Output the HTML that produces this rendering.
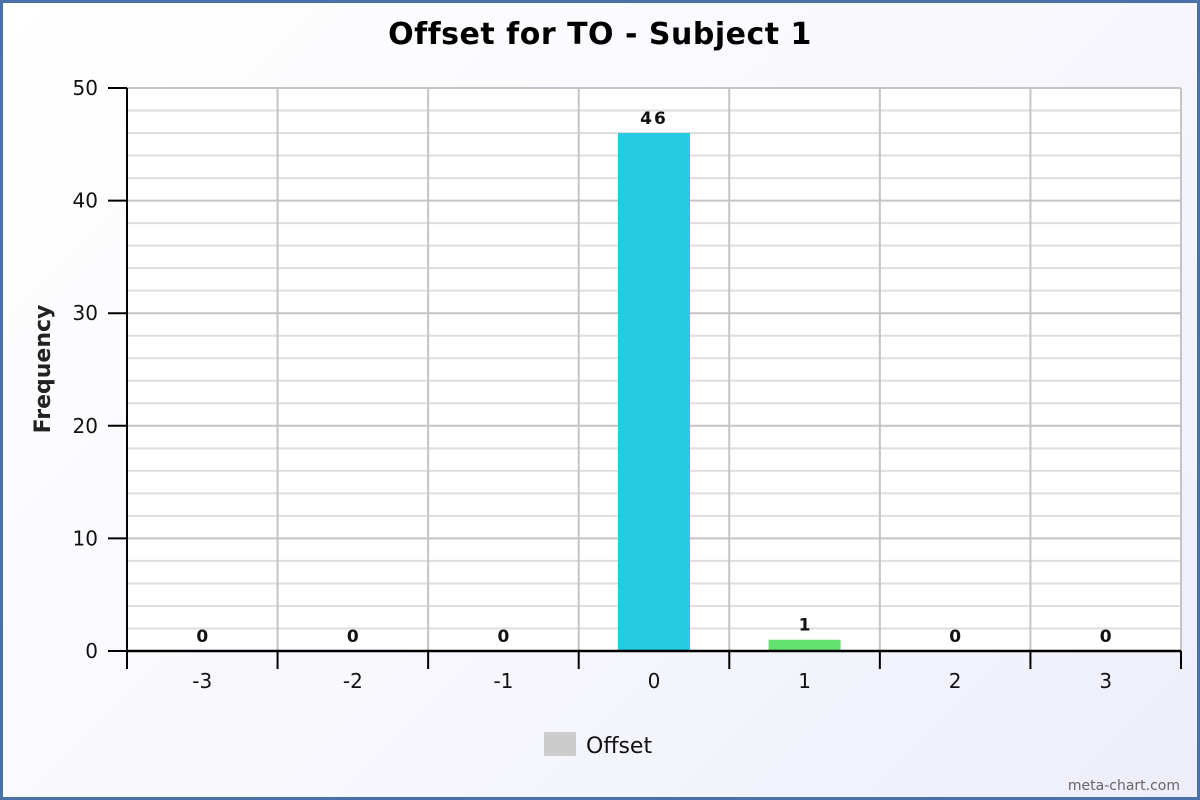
<!DOCTYPE html>
<html><head><meta charset="utf-8"><style>
html,body{margin:0;padding:0}
body{width:1200px;height:800px;overflow:hidden;font-family:"DejaVu Sans","Liberation Sans",sans-serif}
#frame{position:absolute;left:0;top:0;width:1194px;height:794px;border:3px solid #4a72a8;background:linear-gradient(135deg,#ffffff 0%,#f8f8fd 50%,#eeeefb 100%)}
</style></head><body>
<div id="frame"></div>
<svg id="chart" width="1200" height="800" style="position:absolute;left:0;top:0"></svg>
<script>
const categories = ["-3","-2","-1","0","1","2","3"];
const values = [0,0,0,46,1,0,0];
const barColors = ["#cccccc","#cccccc","#cccccc","#25cae3","#62e36f","#cccccc","#cccccc"];
const yTicks = [0,10,20,30,40,50];
const NS="http://www.w3.org/2000/svg";
const svg=document.getElementById('chart');
const L=127,R=1181,T=88,B=651,yMax=50;
const y=v=>B-(v/yMax)*(B-T);
const cw=(R-L)/categories.length;
const x=i=>L+cw*i;
function mk(tag,attrs,parent){const e=document.createElementNS(NS,tag);for(const k in attrs)e.setAttribute(k,attrs[k]);(parent||svg).appendChild(e);return e;}
mk('rect',{x:L,y:T,width:R-L,height:B-T,fill:'#ffffff'});
for(let v=0;v<=yMax;v+=2){
  const ln=mk('line',{x1:L,x2:R,y1:y(v),y2:y(v),stroke:v%10===0?'#c4c4c4':'#dedede','stroke-width':2});
  
  
}
for(let i=1;i<=categories.length;i++){
  const ln=mk('line',{x1:x(i),x2:x(i),y1:T,y2:B,stroke:'#c4c4c4','stroke-width':2});
  
  
}
categories.forEach((c,i)=>{
  const bw=72,cx=x(i)+cw/2,h=B-y(values[i]);
  const r=mk('rect',{x:cx-bw/2,y:y(values[i]),width:bw,height:h,fill:barColors[i]});
  
  
  const t=mk('text',{x:cx,y:y(values[i])-9,'text-anchor':'middle','font-size':17,'font-weight':'bold',fill:'#111','letter-spacing':values[i]>9?2:0});
  t.textContent=values[i];
  
  
  const tl=mk('text',{x:cx,y:688,'text-anchor':'middle','font-size':20,fill:'#111'});
  tl.textContent=c;
  
  
});
for(let i=0;i<=categories.length;i++){
  const tk=mk('line',{x1:x(i),x2:x(i),y1:B,y2:669,stroke:'#000','stroke-width':2});
  
  
}
yTicks.forEach(v=>{
  const tk=mk('line',{x1:108,x2:L,y1:y(v),y2:y(v),stroke:'#000','stroke-width':2});
  
  
  const t=mk('text',{x:98,y:y(v)+7,'text-anchor':'end','font-size':20,fill:'#111'});
  t.textContent=v;
  
  
});
const ya=mk('line',{x1:L,x2:L,y1:T,y2:B+1,stroke:'#000','stroke-width':2});


const xa=mk('line',{x1:L,x2:R,y1:B,y2:B,stroke:'#000','stroke-width':2.5});


const title=mk('text',{x:600,y:44,'text-anchor':'middle','font-size':30,'font-weight':'bold',fill:'#000','letter-spacing':0.5});
title.textContent='Offset for TO - Subject 1';


const yt=mk('text',{x:0,y:0,'text-anchor':'middle','font-size':22,'font-weight':'bold',fill:'#222',transform:'translate(50,369) rotate(-90)'});
yt.textContent='Frequency';


const lg=mk('rect',{x:544,y:732,width:32,height:24,fill:'#cccccc'});


const lt=mk('text',{x:586,y:753,'font-size':22,fill:'#111'});
lt.textContent='Offset';


const cr=mk('text',{x:1180,y:790,'text-anchor':'end','font-size':14,fill:'#666'});
cr.textContent='meta-chart.com';


</script>
</body></html>
